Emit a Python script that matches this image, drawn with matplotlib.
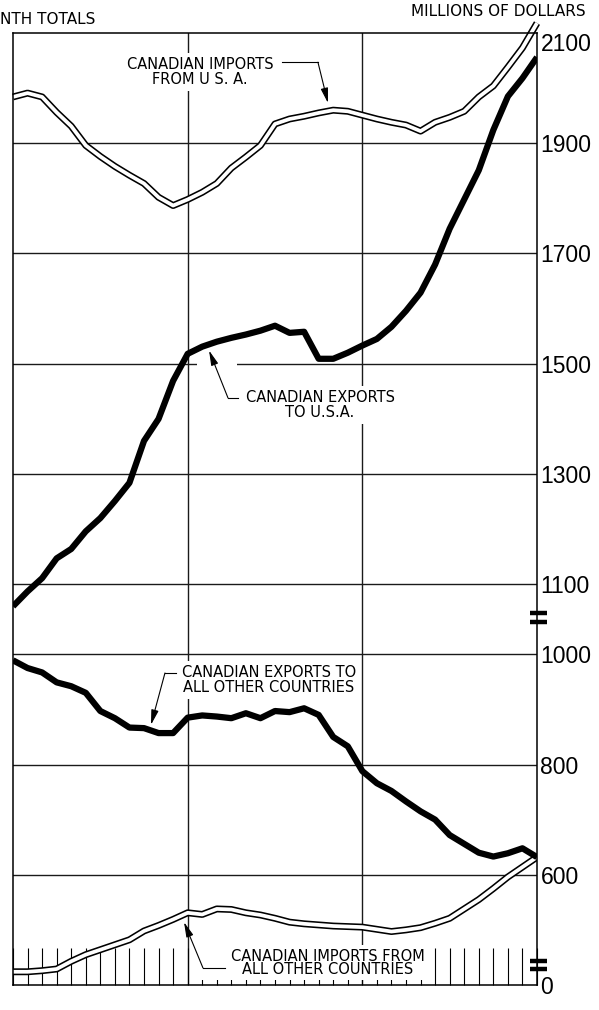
import matplotlib
matplotlib.use("Agg")
import matplotlib.pyplot as plt
import matplotlib.transforms as mtransforms
from matplotlib.patches import Rectangle
import numpy as np

# 12-month moving totals, millions of dollars, one point per month end
# (Dec 1947 .. Dec 1950)
months = np.arange(37)

imports_from_usa = [1984, 1991, 1984, 1956, 1931, 1896, 1876, 1858, 1842, 1827,
                    1802, 1787, 1798, 1811, 1827, 1855, 1875, 1896, 1935, 1944,
                    1949, 1955, 1960, 1958, 1951, 1944, 1938, 1933, 1922, 1938,
                    1947, 1958, 1984, 2004, 2038, 2073, 2118]
exports_to_usa = [1060, 1087, 1111, 1147, 1164, 1196, 1220, 1251, 1284, 1360,
                  1400, 1469, 1518, 1531, 1540, 1547, 1553, 1560, 1569, 1556,
                  1558, 1509, 1509, 1520, 1533, 1545, 1567, 1596, 1629, 1680,
                  1745, 1798, 1851, 1924, 1985, 2018, 2056]
exports_to_others = [989, 975, 967, 949, 942, 930, 897, 884, 867, 866,
                     857, 857, 885, 889, 887, 884, 893, 884, 897, 895,
                     902, 890, 850, 833, 788, 766, 752, 733, 715, 700,
                     672, 656, 640, 633, 639, 648, 632]
imports_from_others = [424, 424, 426, 429, 443, 455, 464, 473, 482, 498,
                       508, 519, 531, 528, 538, 537, 531, 527, 521, 514,
                       511, 509, 507, 506, 505, 501, 497, 500, 504, 512,
                       521, 538, 555, 575, 596, 614, 632]

year_labels = ["1948", "1949", "1950"]
year_centres = [6, 18, 30]
y_ticks = [0, 600, 800, 1000, 1100, 1300, 1500, 1700, 1900, 2100]
h_grid = [600, 800, 1000, 1100, 1300, 1500, 1700, 1900]
v_grid = [12, 24]

# broken axis: 0..410 squeezed, gap between 1000 and 1040 widened
brk_v = [0, 410, 1000, 1040, 2400]
brk_u = [400, 410, 1000, 1067, 2427]


def fwd(v):
    return np.interp(v, brk_v, brk_u)


def inv(u):
    return np.interp(u, brk_u, brk_v)


plt.rcParams["font.family"] = "DejaVu Sans"
digits = ["Liberation Sans", "DejaVu Sans"]

fig = plt.figure(figsize=(5.99, 10.10), dpi=100)
ax = fig.add_axes([13 / 599, 25 / 1010, 524 / 599, 952 / 1010])
ax.set_yscale("function", functions=(fwd, inv))
ax.set_xlim(0, 36)
ax.set_ylim(0, 2100)

for s in ax.spines.values():
    s.set_linewidth(1.1)

for g in h_grid:
    ax.axhline(g, color="#1a1a1a", lw=1.0, zorder=1.5)
for g in v_grid:
    ax.axvline(g, color="#1a1a1a", lw=1.0, zorder=1.5)

# series
ax.plot(months, imports_from_usa, color="black", lw=5.0, solid_capstyle="butt",
        zorder=2.2, clip_on=False)
ax.plot(months, imports_from_usa, color="white", lw=2.7, solid_capstyle="butt",
        zorder=2.3, clip_on=False)
ax.plot(months, exports_to_usa, color="black", lw=4.5, solid_capstyle="butt",
        solid_joinstyle="round", zorder=2.4)
ax.plot(months, imports_from_others, color="black", lw=5.0, solid_capstyle="butt",
        zorder=2.2)
ax.plot(months, imports_from_others, color="white", lw=2.7, solid_capstyle="butt",
        zorder=2.3)
ax.plot(months, exports_to_others, color="black", lw=4.5, solid_capstyle="butt",
        solid_joinstyle="round", zorder=2.4)

# x axis: long monthly hatch ticks, year names between
ax.set_xticks(months)
ax.tick_params(axis="x", which="major", direction="in", length=26.5, width=0.8,
               labelbottom=False)
ax.set_xticks(year_centres, minor=True)
ax.set_xticklabels(year_labels, minor=True, fontsize=11.5, family=digits)
ax.tick_params(axis="x", which="minor", length=0, pad=7)

# y axis on the right
ax.yaxis.tick_right()
ax.set_yticks(y_ticks)
ax.set_yticklabels([str(t) for t in y_ticks], fontsize=16.5, family=digits)
ax.tick_params(axis="y", length=0, pad=2.5)
ax.tick_params(axis="y", which="minor", right=False, left=False)
ax.get_yticklabels()[-1].set_verticalalignment("top")

# break marks on the right edge
for yf in [0.3908, 0.3818, 0.0252, 0.0168]:
    ax.plot([0.9866, 1.019], [yf, yf], color="black", lw=3.2,
            solid_capstyle="butt", transform=ax.transAxes, clip_on=False, zorder=5)

# white clearings behind labels and leaders
bt = mtransforms.blended_transform_factory(ax.transData, ax.transAxes)
ax.add_patch(Rectangle((12.71, 0.0055), 16.15, 0.0365, transform=bt,
                       fc="white", ec="none", zorder=1.8))
ax.add_patch(Rectangle((12.65, 1495), 2.75, 10, fc="white", ec="none", zorder=1.8))

box = dict(fc="white", ec="none", pad=3)
lab = dict(fontsize=10.5, ha="center", va="center", linespacing=0.95, zorder=3)


def leader(start, corner, tip):
    ax.plot([start[0], corner[0]], [start[1], corner[1]], color="black", lw=0.8,
            zorder=3)
    ax.annotate("", xy=tip, xytext=corner,
                arrowprops=dict(arrowstyle="-|>,head_length=0.9,head_width=0.22",
                                color="black", lw=0.8, shrinkA=0, shrinkB=0,
                                mutation_scale=10), zorder=3)


ax.text(12.85, 2029, "CANADIAN IMPORTS\nFROM U S. A.", bbox=box, **lab)
leader((18.5, 2047), (20.95, 2047), (21.64, 1973))

ax.text(21.1, 1425, "CANADIAN EXPORTS\nTO U.S.A.", bbox=box, **lab)
leader((15.46, 1438), (14.77, 1438), (13.47, 1524))

ax.text(17.59, 953, "CANADIAN EXPORTS TO\nALL OTHER COUNTRIES", bbox=box, **lab)
leader((11.2, 966), (10.44, 966), (9.48, 872))

ax.text(21.64, 440, "CANADIAN IMPORTS FROM\nALL OTHER COUNTRIES",
        **{**lab, "linespacing": 0.8})
leader((14.57, 431), (13.05, 431), (11.75, 514))

fig.text(0 / 599, 1 - 20 / 1010, "NTH TOTALS", ha="left", va="center",
         fontsize=11)
fig.text(586 / 599, 1 - 12 / 1010, "MILLIONS OF DOLLARS", ha="right", va="center",
         fontsize=11)

fig.savefig("out.png", dpi=100)
